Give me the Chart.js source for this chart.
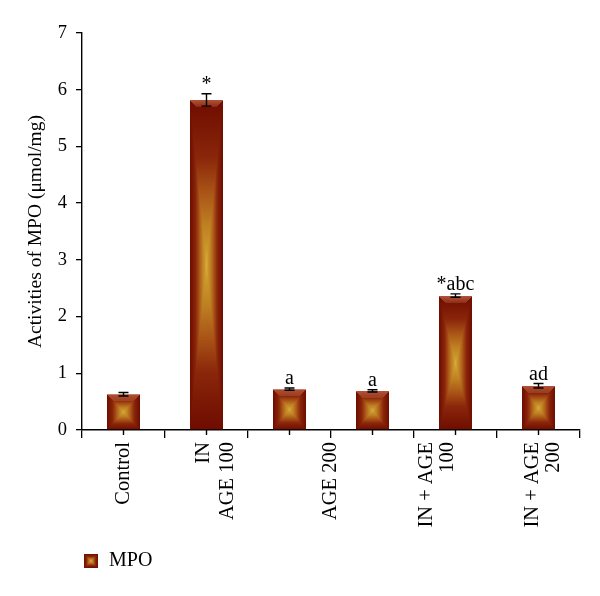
<!DOCTYPE html>
<html>
<head>
<meta charset="utf-8">
<script src="https://cdn.jsdelivr.net/npm/chart.js@4.4.0/dist/chart.umd.min.js"></script>
<style>
  html, body { margin: 0; background: #fff; }
  #wrap { width: 600px; height: 596px; }
</style>
</head>
<body>
<div id="wrap"><canvas id="chart"></canvas></div>
<script>
// ---- data ----
const groups   = ["Control", "IN", "AGE 100", "AGE 200", ["IN + AGE", "100"], ["IN + AGE", "200"]];
const mpoMean  = [0.63, 5.82, 0.72, 0.69, 2.37, 0.78];
const mpoSem   = [0.03, 0.11, 0.02, 0.02, 0.03, 0.04];
const sigMarks = ["", "*", "a", "a", "*abc", "ad"];
const yTicks   = [0, 1, 2, 3, 4, 5, 6, 7];

// label nudges (fraction of a category) to copy the odd placement in the figure
const labelNudge = [0, -0.04, -0.75, -0.5, -0.22, 0.05];

const FONT = "'Liberation Serif', 'DejaVu Serif', serif";

// ---- box ("from centre") gradient used by the bars ----
const stops = [
  [0.00, [220, 172, 66]],
  [0.08, [204, 154, 46]],
  [0.25, [190, 126, 34]],
  [0.45, [168, 82, 22]],
  [0.65, [138, 38, 10]],
  [1.00, [110, 12, 0]]
];

function colorAt(t){
  for(let i = 1; i < stops.length; i++){
    if(t <= stops[i][0]){
      const [t0, c0] = stops[i-1], [t1, c1] = stops[i];
      const f = (t - t0) / (t1 - t0);
      return c0.map((v, k) => Math.round(v + (c1[k] - v) * f));
    }
  }
  return stops[stops.length-1][1];
}

function boxGradient(w, h, cap){
  const c = document.createElement("canvas");
  c.width = Math.max(1, Math.round(w));
  c.height = Math.max(1, Math.round(h));
  const g = c.getContext("2d");
  const img = g.createImageData(c.width, c.height);
  const capH = cap ? Math.min(7, c.height / 3) : 0;
  for(let y = 0; y < c.height; y++){
    for(let x = 0; x < c.width; x++){
      const u = ((x + 0.5) / c.width) * 2 - 1;
      const v = ((y + 0.5) / c.height) * 2 - 1;
      let col = colorAt(Math.max(Math.abs(u), Math.abs(v)));
      // light bevel at the top of the bar
      if(y < capH && x >= y && x < c.width - y){
        const f = 0.55 - 0.35 * (y / capH);
        col = col.map((val, k) => Math.round(val + ([226, 136, 96][k] - val) * f));
      }
      const p = (y * c.width + x) * 4;
      img.data[p] = col[0]; img.data[p+1] = col[1]; img.data[p+2] = col[2]; img.data[p+3] = 255;
    }
  }
  g.putImageData(img, 0, 0);
  return c;
}

const CAT_PCT = 0.4;

function barFill(ctx){
  if(ctx.type !== "data") return "#a8481a";
  const chart = ctx.chart;
  const xs = chart.scales.x, ys = chart.scales.y;
  if(!xs || !ys || !xs.width) return "#a8481a";
  const w = xs.width / groups.length * CAT_PCT;
  const left = xs.getPixelForValue(ctx.dataIndex) - w / 2;
  const top = ys.getPixelForValue(ctx.raw);
  const base = ys.getPixelForValue(0);
  const pat = chart.ctx.createPattern(boxGradient(w, base - top, true), "no-repeat");
  pat.setTransform(new DOMMatrix([1, 0, 0, 1, Math.round(left), Math.round(top)]));
  return pat;
}

// ---- error bars, significance letters, small centre ticks ----
const errorBars = {
  id: "errorBars",
  afterDatasetsDraw(chart){
    const {ctx, scales: {x, y}} = chart;
    ctx.save();
    ctx.strokeStyle = "#000";
    ctx.fillStyle = "#000";
    ctx.lineWidth = 1.4;
    ctx.font = "20px " + FONT;
    ctx.textAlign = "center";
    ctx.textBaseline = "bottom";
    mpoMean.forEach((m, i) => {
      const cx = x.getPixelForValue(i);
      const hi = y.getPixelForValue(m + mpoSem[i]);
      const lo = y.getPixelForValue(m - mpoSem[i]);
      ctx.beginPath();
      ctx.moveTo(cx, hi); ctx.lineTo(cx, lo);
      ctx.moveTo(cx - 5, hi); ctx.lineTo(cx + 5, hi);
      ctx.moveTo(cx - 5, lo); ctx.lineTo(cx + 5, lo);
      // short tick under the bar centre
      ctx.moveTo(cx, y.bottom); ctx.lineTo(cx, y.bottom + 5);
      ctx.stroke();
      if(sigMarks[i]) ctx.fillText(sigMarks[i], cx, hi + 1);
    });
    ctx.restore();
  }
};

// ---- rotated category labels ----
const xLabels = {
  id: "xLabels",
  afterDraw(chart){
    const {ctx, scales: {x}} = chart;
    const step = x.width / groups.length;
    const lh = 21;
    ctx.save();
    ctx.fillStyle = "#000";
    ctx.font = "20.5px " + FONT;
    ctx.textAlign = "right";
    ctx.textBaseline = "middle";
    groups.forEach((g, i) => {
      const lines = Array.isArray(g) ? g : [g];
      const px = x.getPixelForValue(i) + labelNudge[i] * step;
      ctx.save();
      ctx.translate(px, x.top + 12);
      ctx.rotate(-Math.PI / 2);
      lines.forEach((ln, k) => ctx.fillText(ln, 0, (k - (lines.length - 1) / 2) * lh));
      ctx.restore();
    });
    ctx.restore();
  }
};

const legendIcon = boxGradient(14, 14, false);

new Chart(document.getElementById("chart"), {
  type: "bar",
  data: {
    labels: groups,
    datasets: [{
      label: "MPO",
      data: mpoMean,
      backgroundColor: barFill,
      borderWidth: 0,
      categoryPercentage: CAT_PCT,
      barPercentage: 1
    }]
  },
  options: {
    responsive: true,
    maintainAspectRatio: false,
    animation: false,
    events: [],
    layout: { padding: { top: 33, right: 20, bottom: 15, left: 0 } },
    plugins: {
      tooltip: { enabled: false },
      legend: {
        position: "bottom",
        align: "start",
        fullSize: false,
        labels: {
          usePointStyle: true,
          pointStyle: legendIcon,
          pointStyleWidth: 16,
          padding: 1,
          color: "#000",
          font: { family: FONT, size: 20 }
        }
      }
    },
    scales: {
      x: {
        offset: true,
        grid: { offset: true, drawOnChartArea: false, drawTicks: true, tickLength: 8, color: "#000", lineWidth: 1.3 },
        border: { color: "#000", width: 1.4 },
        ticks: { display: false },
        afterFit(scale){ scale.height = 120; }
      },
      y: {
        min: 0,
        max: 7,
        afterBuildTicks(scale){ scale.ticks = yTicks.map(v => ({ value: v })); },
        grid: { drawOnChartArea: false, drawTicks: true, tickLength: 6, color: "#000", lineWidth: 1.3 },
        border: { color: "#000", width: 1.4 },
        ticks: { color: "#000", padding: 9, font: { family: FONT, size: 18.5 } },
        title: {
          display: true,
          text: "Activities of MPO (\u03bcmol/mg)",
          color: "#000",
          font: { family: FONT, size: 19.5 },
          padding: { top: 24, bottom: 0 }
        },
        afterFit(scale){ scale.width = 82; }
      }
    }
  },
  plugins: [errorBars, xLabels]
});
</script>
</body>
</html>
